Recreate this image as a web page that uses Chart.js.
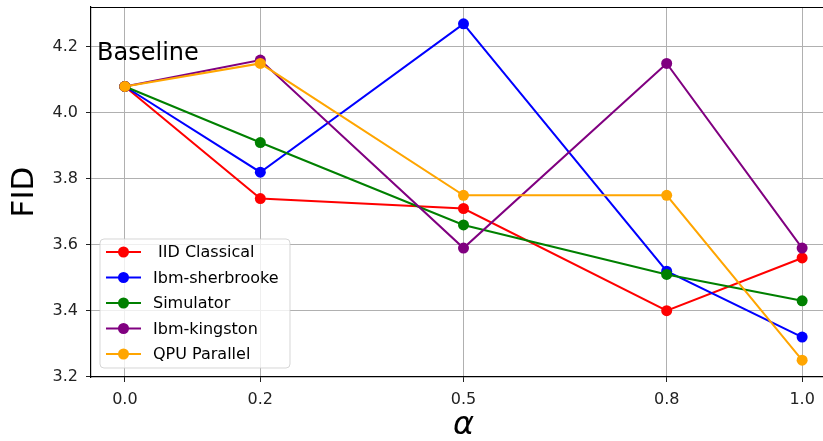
<!DOCTYPE html>
<html><head><meta charset="utf-8">
<script src="https://cdn.jsdelivr.net/npm/chart.js@4/dist/chart.umd.min.js"></script>
<style>html,body{margin:0;padding:0;overflow:hidden;background:#fff;width:823px;height:441px}#wrap{width:865px;height:441px}</style>
</head><body><div id="wrap"><canvas id="c" width="865" height="441"></canvas></div>
<script>
const alphas = [0.0, 0.2, 0.5, 0.8, 1.0];
const xTickValues = [0.0, 0.2, 0.5, 0.8, 1.0];
const xTickLabels = ['0.0', '0.2', '0.5', '0.8', '1.0'];
const yTickValues = [3.2, 3.4, 3.6, 3.8, 4.0, 4.2];
const yTickLabels = ['3.2', '3.4', '3.6', '3.8', '4.0', '4.2'];
const seriesNames = [' IID Classical', 'Ibm-sherbrooke', 'Simulator', 'Ibm-kingston', 'QPU Parallel'];
const iidClassical = [4.08, 3.74, 3.71, 3.40, 3.56];
const ibmSherbrooke = [4.08, 3.82, 4.27, 3.52, 3.32];
const simulator = [4.08, 3.91, 3.66, 3.51, 3.43];
const ibmKingston = [4.08, 4.16, 3.59, 4.15, 3.59];
const qpuParallel = [4.08, 4.15, 3.75, 3.75, 3.25];
const seriesColors = ['#ff0000', '#0000ff', '#008000', '#800080', '#ffa500'];
const annotationText = 'Baseline';
const annotationPos = {x: -0.041, y: 4.2};
const xAxisTitle = 'α';
const yAxisTitle = 'FID';

const allSeries = [iidClassical, ibmSherbrooke, simulator, ibmKingston, qpuParallel];

Chart.defaults.font.family = 'DejaVu Sans';

const datasets = allSeries.map((vals, i) => ({
  label: seriesNames[i],
  data: vals.map((v, j) => ({x: alphas[j], y: v})),
  borderColor: seriesColors[i],
  backgroundColor: seriesColors[i],
  pointBackgroundColor: seriesColors[i],
  pointBorderColor: seriesColors[i],
  pointRadius: 5.5,
  pointBorderWidth: 0,
  borderWidth: 2,
  tension: 0,
  order: allSeries.length - 1 - i
}));

const extras = {
  id: 'extras',
  afterDraw(chart) {
    const ctx = chart.ctx;
    const ca = chart.chartArea;
    const xs = chart.scales.x, ys = chart.scales.y;
    ctx.save();
    // top spine
    ctx.strokeStyle = '#000';
    ctx.lineWidth = 1.2;
    ctx.beginPath();
    ctx.moveTo(ca.left, ca.top + 0.5);
    ctx.lineTo(ca.right, ca.top + 0.5);
    ctx.stroke();
    // x axis title, centred on the axes
    ctx.fillStyle = '#000';
    ctx.font = 'italic 32px "DejaVu Sans"';
    ctx.textAlign = 'center';
    ctx.textBaseline = 'middle';
    ctx.fillText(xAxisTitle, (ca.left + ca.right) / 2, 426);
    // annotation
    ctx.font = '24px "DejaVu Sans"';
    ctx.textAlign = 'left';
    ctx.textBaseline = 'alphabetic';
    ctx.fillText(annotationText, xs.getPixelForValue(annotationPos.x), ys.getPixelForValue(annotationPos.y) + 13);
    // legend
    const bx = 100, by = 239, bw = 190, bh = 129, r = 4;
    ctx.beginPath();
    ctx.moveTo(bx + r, by);
    ctx.arcTo(bx + bw, by, bx + bw, by + bh, r);
    ctx.arcTo(bx + bw, by + bh, bx, by + bh, r);
    ctx.arcTo(bx, by + bh, bx, by, r);
    ctx.arcTo(bx, by, bx + bw, by, r);
    ctx.closePath();
    ctx.fillStyle = 'rgba(255,255,255,0.8)';
    ctx.fill();
    ctx.strokeStyle = 'rgba(204,204,204,0.8)';
    ctx.lineWidth = 1;
    ctx.stroke();
    ctx.font = '16px "DejaVu Sans"';
    ctx.textBaseline = 'middle';
    seriesNames.forEach((name, i) => {
      const cy = 252 + i * 25.5;
      ctx.strokeStyle = seriesColors[i];
      ctx.lineWidth = 2;
      ctx.beginPath();
      ctx.moveTo(106, cy);
      ctx.lineTo(141, cy);
      ctx.stroke();
      ctx.fillStyle = seriesColors[i];
      ctx.beginPath();
      ctx.arc(123.5, cy, 5.5, 0, Math.PI * 2);
      ctx.fill();
      ctx.fillStyle = '#000';
      ctx.fillText(name, 153, cy + 1);
    });
    ctx.restore();
  }
};

new Chart(document.getElementById('c'), {
  type: 'line',
  data: {datasets},
  options: {
    responsive: false,
    devicePixelRatio: 1,
    animation: false,
    layout: {padding: {top: 7, right: 29, left: 0, bottom: 0}},
    plugins: {legend: {display: false}, tooltip: {enabled: false}},
    scales: {
      x: {
        type: 'linear',
        min: -0.05,
        max: 1.05,
        afterBuildTicks: s => { s.ticks = xTickValues.map(v => ({value: v})); },
        afterFit: s => { s.height = 64; s.paddingLeft = 0; s.paddingRight = 0; },
        ticks: {
          callback: (v) => { const k = xTickValues.indexOf(v); return k >= 0 ? xTickLabels[k] : ''; },
          font: {size: 16}, color: '#222', padding: 8, maxRotation: 0
        },
        grid: {color: '#b0b0b0', lineWidth: 1, tickLength: 5, tickColor: '#222', drawTicks: true},
        border: {display: true, color: '#000', width: 1.2},
        title: {display: false}
      },
      y: {
        type: 'linear',
        min: 3.199,
        max: 4.321,
        afterBuildTicks: s => { s.ticks = yTickValues.map(v => ({value: v})); },
        afterFit: s => { s.width = 91; s.paddingTop = 0; s.paddingBottom = 0; },
        ticks: {
          callback: (v) => { const k = yTickValues.findIndex(t => Math.abs(t - v) < 1e-9); return k >= 0 ? yTickLabels[k] : ''; },
          font: {size: 16}, color: '#222', padding: 8
        },
        grid: {color: '#b0b0b0', lineWidth: 1, tickLength: 5, tickColor: '#222', drawTicks: true},
        border: {display: true, color: '#000', width: 1.2},
        title: {display: true, text: yAxisTitle, font: {size: 31}, color: '#000', padding: {top: 6, bottom: 0}}
      }
    }
  },
  plugins: [extras]
});
</script>
</body></html>
